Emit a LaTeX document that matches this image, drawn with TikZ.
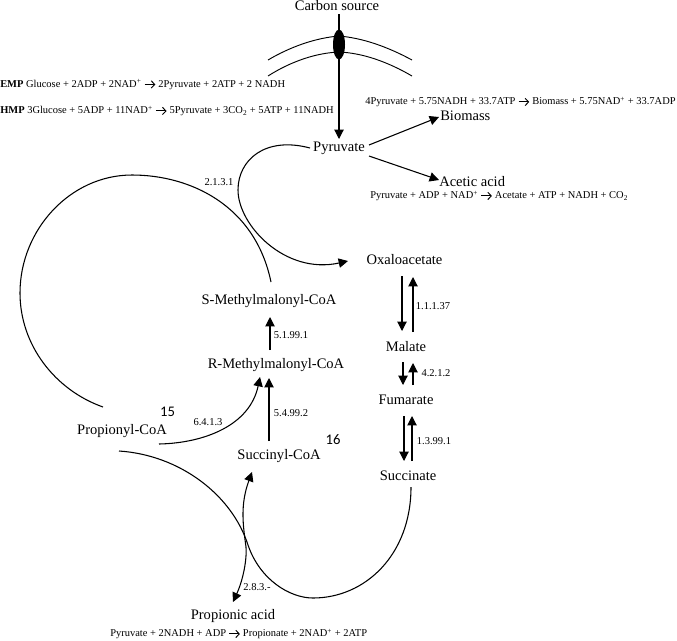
\documentclass[tikz,border=0pt]{standalone}
\usepackage{fontspec}
\setmainfont{Liberation Serif}
\newfontfamily\numfont{Carlito}
\usetikzlibrary{arrows.meta}
\newcommand{\rarr}{\raisebox{0.1ex}{\tikz[baseline=-0.5ex]\draw[line width=0.7pt,-{Straight Barb[length=2.6pt,width=5.5pt]}] (0,0)--(8pt,0);}}
\begin{document}
\begin{tikzpicture}[x=0.75pt,y=-0.75pt,
  met/.style={inner sep=0pt,font=\fontsize{10.9}{12}\selectfont},
  eqn/.style={inner sep=0pt,font=\fontsize{7.85}{9}\selectfont,anchor=west},
  enz/.style={inner sep=0pt,font=\fontsize{7.9}{9}\selectfont},
  num/.style={inner sep=0pt,font=\numfont\fontsize{11}{13}\selectfont},
  conn/.style={line width=0.8pt,-{Triangle[length=7pt,width=7pt]}},
  plain/.style={line width=0.8pt}]
\useasboundingbox (0,0) rectangle (677,640);
% membrane
\draw[line width=0.7pt] (268,60) .. controls (290,47) and (315,38) .. (339,36) .. controls (363,38) and (388,47) .. (412,60);
\draw[line width=0.7pt] (268,76) .. controls (290,62) and (315,53) .. (339,52) .. controls (363,53) and (388,62) .. (412,76);
\fill (339,44.5) ellipse (6 and 15);
% metabolites
\node[met] (carbon) at (337,6) {Carbon source};
\node[met] (pyr) at (339,148) {Pyruvate};
\node[met,anchor=west] (bio) at (440,115.5) {Biomass};
\node[met,anchor=west] (ace) at (439,182) {Acetic acid};
\node[met] (oxa) at (404.5,260) {Oxaloacetate};
\node[met] (mal) at (406,346.5) {Malate};
\node[met] (fum) at (406,400) {Fumarate};
\node[met] (suc) at (408,476) {Succinate};
\node[met] (smm) at (269,301.5) {S-Methylmalonyl-CoA};
\node[met] (rmm) at (276,365) {R-Methylmalonyl-CoA};
\node[met] (scc) at (279,456) {Succinyl-CoA};
\node[met] (pro) at (122,431.5) {Propionyl-CoA};
\node[met] (pac) at (233,616) {Propionic acid};
% equations
\node[eqn] (e1) at (0,84.5) {\textbf{EMP} Glucose + 2ADP + 2NAD\textsuperscript{+} \rarr{} 2Pyruvate + 2ATP + 2 NADH};
\node[eqn] (e2) at (0,111) {\textbf{HMP} 3Glucose + 5ADP + 11NAD\textsuperscript{+} \rarr{} 5Pyruvate + 3CO\textsubscript{2} + 5ATP + 11NADH};
\node[eqn] (e3) at (365,102) {4Pyruvate + 5.75NADH + 33.7ATP \rarr{} Biomass + 5.75NAD\textsuperscript{+} + 33.7ADP};
\node[eqn] (e4) at (370,196) {Pyruvate + ADP + NAD\textsuperscript{+} \rarr{} Acetate + ATP + NADH + CO\textsubscript{2}};
\node[eqn] (e5) at (110,634) {Pyruvate + 2NADH + ADP \rarr{} Propionate + 2NAD\textsuperscript{+} + 2ATP};
% enzymes
\node[enz] (z1) at (219,182) {2.1.3.1};
\node[enz] (z2) at (291,335) {5.1.99.1};
\node[enz] (z3) at (291,413) {5.4.99.2};
\node[enz] (z4) at (208,422) {6.4.1.3};
\node[enz] (z5) at (433,306) {1.1.1.37};
\node[enz] (z6) at (436,373) {4.2.1.2};
\node[enz] (z7) at (434,441) {1.3.99.1};
\node[enz] (z8) at (257,587) {2.8.3.-};
\node[num] (n15) at (167.5,411.5) {15};
\node[num] (n16) at (333,440) {16};
% free ends
\coordinate (a1) at (339,14); \coordinate (a2) at (339,139);
\coordinate (b1) at (369,145); \coordinate (b2) at (439,117);
\coordinate (c1) at (369,156); \coordinate (c2) at (439,180);
\coordinate (d1) at (310,148); \coordinate (d2) at (348,261);
\coordinate (f1) at (103,407); \coordinate (f2) at (271,282);
\coordinate (g1) at (159,444); \coordinate (g2) at (260,377);
\coordinate (h1) at (269,441); \coordinate (h2) at (269,378);
\coordinate (i1) at (270,350); \coordinate (i2) at (270,317);
\coordinate (j1) at (119,451); \coordinate (j2) at (411,487);
\coordinate (k1) at (233,602); \coordinate (k2) at (252,472);
\coordinate (p1) at (402,276); \coordinate (p2) at (402,331);
\coordinate (q1) at (413,332); \coordinate (q2) at (413,277);
\coordinate (r1) at (403,362); \coordinate (r2) at (403,385);
\coordinate (s1) at (413,385); \coordinate (s2) at (413,363);
\coordinate (t1) at (404,416); \coordinate (t2) at (404,461);
\coordinate (u1) at (412,461); \coordinate (u2) at (412,416);
% connectors
\draw[conn] (a1)--(a2);
\draw[conn] (b1)--(b2);
\draw[conn] (c1)--(c2);
\draw[conn] (d1) .. controls (265,136) and (238,160) .. (238,190) .. controls (238,225) and (285,275) .. (d2);
\draw[plain] (f1) .. controls (55,390) and (20,345) .. (20,293) .. controls (20,230) and (70,175) .. (132,175) .. controls (190,175) and (255,205) .. (f2);
\draw[conn] (g1) .. controls (205,443) and (250,425) .. (g2);
\draw[conn] (h1)--(h2);
\draw[conn] (i1)--(i2);
\draw[plain] (j1) .. controls (180,455) and (232,495) .. (248,545) .. controls (260,580) and (290,598) .. (313,598) .. controls (365,598) and (411,555) .. (j2);
\draw[line width=0.8pt,{Triangle[length=7pt,width=7pt]}-{Triangle[length=7pt,width=7pt]}] (k1) .. controls (243,580) and (247,560) .. (246,547) .. controls (243,525) and (240,505) .. (k2);
\foreach \u/\v in {p1/p2,q1/q2,r1/r2,s1/s2,t1/t2,u1/u2}{\draw[conn] (\u)--(\v);}
\end{tikzpicture}
\end{document}
